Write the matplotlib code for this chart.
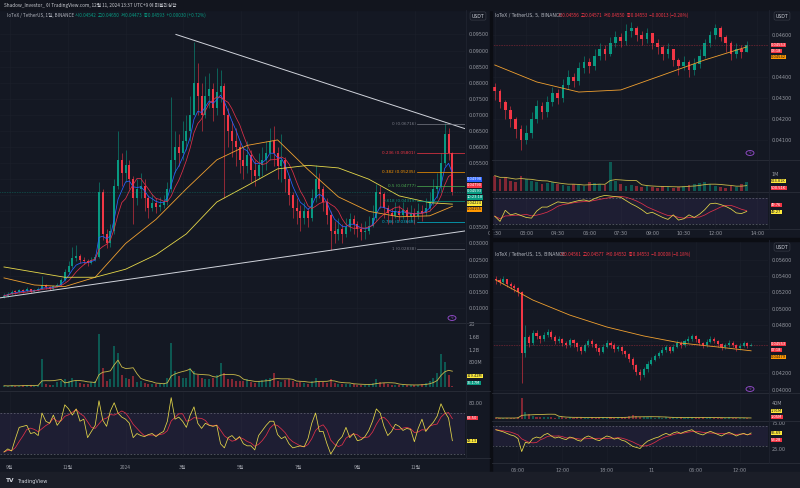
import numpy as np
import pandas as pd
import matplotlib
matplotlib.use('Agg')
import matplotlib.pyplot as plt
import matplotlib.dates as mdates
from matplotlib.patches import Rectangle, Circle

plt.rcParams['font.family'] = ['DejaVu Sans', 'Noto Sans CJK KR']
KR = ['Noto Sans CJK KR', 'DejaVu Sans']

# ---------------- DATA ----------------
# Left: IOTX/USDT daily (aggregated 4-day samples)
d_start = '2023-08-26'
close_d = [0.0138,0.0142,0.0150,0.0148,0.0155,0.0152,0.0158,0.0150,0.0155,0.0160,
           0.0172,0.0165,0.0160,0.0168,0.0172,0.0185,0.0210,0.0230,0.0255,0.0262,
           0.0250,0.0245,0.0240,0.0250,0.0258,0.0460,0.0330,0.0300,0.0340,0.0480,
           0.0560,0.0520,0.0545,0.0500,0.0440,0.0470,0.0480,0.0440,0.0410,0.0425,
           0.0415,0.0420,0.0430,0.0470,0.0560,0.0600,0.0580,0.0620,0.0650,0.0700,
           0.0800,0.0760,0.0700,0.0760,0.0780,0.0720,0.0770,0.0790,0.0700,0.0650,
           0.0620,0.0600,0.0560,0.0540,0.0575,0.0530,0.0510,0.0545,0.0560,0.0580,
           0.0620,0.0580,0.0540,0.0560,0.0500,0.0450,0.0410,0.0400,0.0380,0.0400,
           0.0380,0.0440,0.0500,0.0470,0.0430,0.0390,0.0340,0.0330,0.0345,0.0330,
           0.0350,0.0375,0.0360,0.0345,0.0335,0.0340,0.0355,0.0380,0.0460,0.0455,
           0.0410,0.0395,0.0385,0.0400,0.0390,0.0405,0.0385,0.0395,0.0385,0.0400,
           0.0395,0.0410,0.0430,0.0470,0.0480,0.0550,0.0640,0.0580,0.04593]
high_d = [0.0145,0.0150,0.0156,0.0155,0.0160,0.0158,0.0165,0.0160,0.0160,0.0166,
          0.0200,0.0175,0.0168,0.0172,0.0178,0.0192,0.0222,0.0245,0.0290,0.0295,
          0.0268,0.0258,0.0252,0.0258,0.0266,0.0490,0.0470,0.0345,0.0360,0.0500,
          0.0650,0.0580,0.0590,0.0560,0.0510,0.0500,0.0520,0.0500,0.0450,0.0455,
          0.0440,0.0445,0.0450,0.0490,0.0755,0.0650,0.0640,0.0680,0.0700,0.0760,
          0.0926,0.0860,0.0800,0.0820,0.0830,0.0800,0.0845,0.0840,0.0800,0.0720,
          0.0680,0.0660,0.0620,0.0600,0.0620,0.0590,0.0560,0.0580,0.0600,0.0620,
          0.0660,0.0665,0.0600,0.0640,0.0570,0.0510,0.0460,0.0440,0.0420,0.0430,
          0.0410,0.0470,0.0545,0.0520,0.0480,0.0440,0.0400,0.0370,0.0380,0.0360,
          0.0380,0.0395,0.0390,0.0370,0.0365,0.0370,0.0385,0.0420,0.0485,0.0480,
          0.0460,0.0420,0.0410,0.0430,0.0420,0.0430,0.0415,0.0420,0.0410,0.0425,
          0.0420,0.0440,0.0460,0.0500,0.0520,0.0580,0.0675,0.0660,0.0585]
low_d = [0.0130,0.0135,0.0140,0.0142,0.0145,0.0146,0.0150,0.0146,0.0148,0.0152,
         0.0158,0.0158,0.0155,0.0156,0.0164,0.0170,0.0182,0.0205,0.0225,0.0245,
         0.0240,0.0235,0.0230,0.0236,0.0245,0.0255,0.0310,0.0285,0.0290,0.0330,
         0.0470,0.0480,0.0490,0.0470,0.0360,0.0420,0.0440,0.0400,0.0380,0.0400,
         0.0395,0.0400,0.0410,0.0420,0.0460,0.0520,0.0540,0.0560,0.0590,0.0620,
         0.0700,0.0700,0.0650,0.0690,0.0720,0.0680,0.0700,0.0740,0.0440,0.0600,
         0.0570,0.0540,0.0520,0.0500,0.0520,0.0490,0.0480,0.0500,0.0510,0.0530,
         0.0560,0.0540,0.0500,0.0490,0.0460,0.0420,0.0380,0.0360,0.0340,0.0360,
         0.0350,0.0370,0.0430,0.0440,0.0400,0.0360,0.0280,0.0300,0.0310,0.0300,
         0.0320,0.0340,0.0330,0.0320,0.0310,0.0315,0.0330,0.0350,0.0370,0.0410,
         0.0380,0.0360,0.0360,0.0380,0.0370,0.0375,0.0365,0.0370,0.0360,0.0375,
         0.0370,0.0385,0.0400,0.0420,0.0440,0.0460,0.0540,0.0560,0.0450]
vol_d = [40,30,50,40,40,60,70,50,40,60,
         900,90,60,70,150,180,250,200,300,180,
         120,100,90,150,200,1700,600,200,250,1300,
         1100,400,300,250,350,150,200,120,100,90,
         90,100,120,300,1400,500,350,300,300,600,
         500,400,300,250,250,300,400,770,450,250,
         250,200,180,180,250,150,120,200,220,250,
         300,450,200,150,220,250,200,120,150,120,
         110,200,300,200,150,130,250,130,100,100,
         90,110,90,80,60,70,90,120,250,150,
         120,90,80,70,60,70,60,70,60,80,
         90,120,200,300,450,1050,800,400,36]  # millions
rsi_d = [32,35,33,45,56,57,58,50,51,48,70,62,60,68,58,63,78,74,68,74,
         62,64,46,52,58,82,63,57,72,80,70,66,64,60,46,50,48,47,49,50,
         47,50,52,62,85,64,66,62,56,68,76,60,55,60,58,57,58,40,36,46,
         48,44,47,40,38,38,34,48,53,58,62,62,49,45,47,40,36,37,38,37,
         45,60,70,52,52,40,30,36,43,47,56,46,50,43,44,47,53,62,74,70,
         57,48,52,59,57,53,55,54,42,55,64,52,57,61,67,79,71,65,43]
# slow moving averages (sampled every 8 candles + last)
ma_slow_idx = [0, 8, 16, 24, 32, 40, 48, 56, 64, 72, 80, 88, 96, 104, 112, 118]
ma_orange_d = [0.0193,0.0171,0.0166,0.0195,0.0300,0.0375,0.0470,0.0560,0.0605,0.0622,
               0.0530,0.0445,0.0400,0.0383,0.0386,0.04155]
ma_yellow_d = [0.0227,0.0211,0.0195,0.0195,0.0220,0.0265,0.0330,0.0429,0.0480,0.0532,
               0.0543,0.0535,0.0500,0.0448,0.0427,0.04224]
fib_levels = [0, 0.236, 0.382, 0.5, 0.618, 0.786, 1]
fib_top, fib_bottom = 0.06716, 0.02838
trend_upper = [(181.0, 0.0950), (485.3, 0.0657)]   # (days from start, price)
trend_lower = [(-4.2, 0.0131), (485.3, 0.0339)]

# Top right: 5m chart (15-min samples)
tr_start = '2024-12-11 01:30'
close_tr = [0.0433,0.0428,0.0424,0.0420,0.0415,0.0410,0.0413,0.0420,0.0426,0.0423,
            0.0428,0.0432,0.0430,0.0436,0.0440,0.0438,0.0444,0.0447,0.0445,0.0450,
            0.0453,0.0451,0.0456,0.0459,0.0457,0.0462,0.0463,0.0460,0.0458,0.0461,
            0.0456,0.0454,0.0451,0.0453,0.0448,0.0445,0.0447,0.0443,0.0446,0.0450,
            0.0456,0.0460,0.0463,0.0459,0.0456,0.0451,0.0453,0.0452,0.04553]
high_tr = [0.0437,0.0434,0.0429,0.0426,0.0421,0.0417,0.0417,0.0423,0.0429,0.0428,
           0.0431,0.0435,0.0434,0.0439,0.0443,0.0442,0.0447,0.0450,0.0449,0.0453,
           0.0456,0.0455,0.0459,0.0462,0.0461,0.0465,0.0466,0.0464,0.0462,0.0463,
           0.0461,0.0458,0.0455,0.0456,0.0453,0.0449,0.0450,0.0448,0.0449,0.0453,
           0.0458,0.0462,0.0465,0.0464,0.0460,0.0457,0.0456,0.0455,0.04571]
low_tr = [0.0429,0.0425,0.0420,0.0416,0.0411,0.0405,0.0408,0.0411,0.0418,0.0420,
          0.0421,0.0426,0.0427,0.0428,0.0434,0.0435,0.0436,0.0442,0.0442,0.0443,
          0.0448,0.0448,0.0450,0.0454,0.0454,0.0455,0.0459,0.0457,0.0455,0.0456,
          0.0453,0.0451,0.0448,0.0449,0.0445,0.0441,0.0443,0.0440,0.0441,0.0444,
          0.0449,0.0454,0.0458,0.0457,0.0452,0.0448,0.0449,0.0449,0.04550]
vol_tr = [900,700,800,600,500,900,700,600,500,400,450,500,400,350,300,400,350,300,500,450,
          400,350,1700,600,400,300,350,300,250,300,250,200,300,250,200,250,300,350,400,450,
          500,400,300,250,200,300,250,400,500]  # thousands
rsi_tr = [42,34,51,44,46,43,40,39,50,56,56,60,64,63,62,64,66,67,65,69,
          72,74,73,72,71,66,61,57,52,46,48,44,40,37,44,36,38,44,40,45,
          52,61,62,60,57,53,47,46,49.3]
ma_tr_idx = [0, 8, 16, 24, 32, 40, 48]
ma_orange_tr = [0.04456,0.04375,0.04327,0.04337,0.04408,0.04480,0.04542]

# Bottom right: 15m chart (30-min samples)
br_start = '2024-12-10 03:00'
close_br = [0.0535,0.0533,0.0536,0.0530,0.0528,0.0525,0.0520,0.0445,0.0465,0.0458,
            0.0470,0.0466,0.0462,0.0468,0.0471,0.0465,0.0460,0.0463,0.0458,0.0455,
            0.0461,0.0457,0.0452,0.0448,0.0455,0.0460,0.0456,0.0451,0.0447,0.0453,
            0.0458,0.0455,0.0450,0.0452,0.0448,0.0444,0.0438,0.0430,0.0422,0.0418,
            0.0425,0.0432,0.0437,0.0441,0.0445,0.0449,0.0452,0.0448,0.0453,0.0458,
            0.0455,0.0460,0.0463,0.0466,0.0462,0.0458,0.0455,0.0459,0.0463,0.0460,
            0.0456,0.0452,0.0455,0.0458,0.0455,0.0451,0.0454,0.0457,0.0454,0.04553]
high_br = [0.0540,0.0538,0.0540,0.0537,0.0533,0.0530,0.0527,0.0522,0.0480,0.0468,
           0.0474,0.0473,0.0468,0.0471,0.0475,0.0473,0.0467,0.0466,0.0464,0.0460,
           0.0464,0.0463,0.0459,0.0454,0.0458,0.0463,0.0462,0.0458,0.0453,0.0456,
           0.0461,0.0460,0.0457,0.0455,0.0454,0.0449,0.0445,0.0440,0.0432,0.0425,
           0.0428,0.0435,0.0440,0.0444,0.0448,0.0452,0.0455,0.0454,0.0456,0.0461,
           0.0460,0.0463,0.0466,0.0469,0.0467,0.0463,0.0459,0.0462,0.0466,0.0465,
           0.0461,0.0457,0.0458,0.0461,0.0460,0.0456,0.0457,0.0460,0.0459,0.04577]
low_br = [0.0530,0.0529,0.0530,0.0527,0.0524,0.0521,0.0515,0.0408,0.0440,0.0452,
          0.0455,0.0462,0.0457,0.0460,0.0465,0.0462,0.0456,0.0457,0.0454,0.0451,
          0.0453,0.0453,0.0448,0.0444,0.0446,0.0453,0.0453,0.0448,0.0443,0.0445,
          0.0451,0.0451,0.0447,0.0448,0.0444,0.0440,0.0434,0.0426,0.0418,0.0412,
          0.0416,0.0422,0.0430,0.0435,0.0439,0.0443,0.0447,0.0445,0.0446,0.0451,
          0.0451,0.0453,0.0457,0.0460,0.0459,0.0455,0.0451,0.0453,0.0457,0.0457,
          0.0453,0.0449,0.0450,0.0453,0.0452,0.0448,0.0449,0.0452,0.0451,0.04552]
vol_br = [3,2,2,3,2,3,5,52,18,12,8,6,5,4,6,4,3,5,4,3,4,3,5,4,3,3,4,3,5,4,
          3,4,3,4,5,6,8,10,7,5,4,5,4,3,4,3,5,3,4,3,4,3,5,4,3,3,4,3,4,3,
          3,2,3,4,3,3,2,3,2,1.05]  # millions
rsi_br = [62,60,58,55,52,50,45,20,38,36,45,48,46,52,55,50,46,48,45,43,
          48,46,42,40,47,50,47,43,41,46,50,48,44,46,42,40,35,30,28,26,
          34,40,43,46,48,52,55,52,56,58,55,58,60,62,57,54,52,56,59,56,
          53,50,54,57,54,50,53,55,52,55.7]
ma_br_idx = [0, 10, 20, 30, 40, 50, 60, 69]
ma_orange_br = [0.05353,0.05106,0.04920,0.04773,0.04662,0.04575,0.04526,0.04479]

# ---------------- STYLE ----------------
W, H = 800, 488
BG = '#141823'
GRID = '#1c202b'
TXT = '#9598a1'
UP = '#089981'
DN = '#f23645'
SEP = '#2a2e39'
ORANGE = '#f0a030'
YELLOW = '#e6d84a'
BLUE = '#2962ff'
MARED = '#e0304a'
FS = 3.5

fig = plt.figure(figsize=(W/100, H/100), dpi=100, facecolor=BG)

def add_ax(x0, y0, x1, y1):
    ax = fig.add_axes([x0/W, 1-y1/H, (x1-x0)/W, (y1-y0)/H])
    ax.set_facecolor(BG)
    for s in ax.spines.values():
        s.set_visible(False)
    ax.yaxis.tick_right()
    ax.tick_params(axis='both', length=0, labelsize=FS, labelcolor=TXT, pad=2.5)
    ax.tick_params(axis='x', labelbottom=False)
    return ax

def candles(ax, t, o, h, l, c, w):
    o, h, l, c = map(np.asarray, (o, h, l, c))
    h = np.maximum(h, np.maximum(o, c)); l = np.minimum(l, np.minimum(o, c))
    col = np.where(c >= o, UP, DN)
    ax.vlines(t, l, h, colors=col, lw=0.4)
    body = np.maximum(np.abs(c-o), (ax.get_ylim()[1]-ax.get_ylim()[0])*0.003)
    ax.bar(t, body, bottom=np.minimum(o, c), width=w, color=col, lw=0)
    return col

def tag(xp, yp, text, fc, tc='white'):
    fig.text(xp/W, 1-yp/H, text, fontsize=2.6, color=tc, ha='left', va='center',
             bbox=dict(boxstyle='square,pad=0.1', fc=fc, ec='none'))

def ftext(xp, yp, s, color=TXT, size=FS, **kw):
    return fig.text(xp/W, 1-yp/H, s, fontsize=size, color=color, va='center', **kw)

def usdt(xp, yp):
    fig.text(xp/W, 1-yp/H, 'USDT', fontsize=3.3, color='#d1d4dc', va='center', ha='center',
             bbox=dict(boxstyle='round,pad=0.35', fc=BG, ec='#363a45', lw=0.5))

def idea_icon(xp, yp):
    fig.patches.append(Circle((xp/W, 1-yp/H), 4/W, transform=fig.transFigure,
                              fc='none', ec='#9c4fd6', lw=0.6))
    ftext(xp, yp, 'ϟ', color='#9c4fd6', size=3, ha='center')

def rsi_pane(ax, t, rsi, win, lo, hi):
    r = pd.Series(rsi)
    ax.axhspan(lo, hi, color='#7e57c2', alpha=0.10, lw=0)
    ax.axhline(hi, color='#787b86', lw=0.4, ls=(0, (3, 3)))
    ax.axhline(lo, color='#787b86', lw=0.4, ls=(0, (3, 3)))
    ax.plot(t, r.rolling(win, min_periods=1).mean(), color=MARED, lw=0.55)
    ax.plot(t, r, color=YELLOW, lw=0.55)

fmt5 = matplotlib.ticker.FuncFormatter(lambda v, p: f'{v:.5f}')

# ---------------- LEFT CHART ----------------
t_d = mdates.date2num(pd.date_range(d_start, periods=len(close_d), freq='4D').to_pydatetime())
t0 = t_d[0]
xlim_d = (t0-4.2, t0+485.3)
cd = np.array(close_d)
open_d = np.r_[cd[0]*0.97, cd[:-1]]

axp = add_ax(0, 10, 465, 323)
axp.set_xlim(xlim_d); axp.set_ylim(0.00528, 0.1026)
# labels under the price tags (0.040-0.050) are hidden, as on the reference
price_ticks_d = [0.010, 0.015, 0.020, 0.025, 0.030, 0.035, 0.055, 0.060, 0.065,
                 0.070, 0.075, 0.080, 0.085, 0.090, 0.095]
axp.set_yticks(price_ticks_d)
axp.yaxis.set_major_formatter(fmt5)
month_ticks = pd.to_datetime(['2023-09-01','2023-11-01','2024-01-01','2024-03-01',
                              '2024-05-01','2024-07-01','2024-09-01','2024-11-01'])
month_labels = ['9월', '11월', '2024', '3월', '5월', '7월', '9월', '11월']
mt = mdates.date2num(month_ticks.to_pydatetime())
axp.set_xticks(mt)
axp.grid(color=GRID, lw=0.4)
for gv in (0.040, 0.045, 0.050):
    axp.axhline(gv, color=GRID, lw=0.4, zorder=0)
axp.set_axisbelow(True)
cols_d = candles(axp, t_d, open_d, high_d, low_d, close_d, 2.0)
s = pd.Series(close_d)
axp.plot(t_d, s.ewm(span=5).mean(), color=BLUE, lw=0.55)
axp.plot(t_d, s.rolling(7, min_periods=1).mean(), color=MARED, lw=0.55)
axp.plot(t_d[ma_slow_idx], ma_orange_d, color=ORANGE, lw=0.6)
axp.plot(t_d[ma_slow_idx], ma_yellow_d, color=YELLOW, lw=0.6)
for tl in (trend_upper, trend_lower):
    axp.plot([t0+tl[0][0], t0+tl[1][0]], [tl[0][1], tl[1][1]], color='#d1d4dc', lw=0.7)
fib_cols = ['#787b86', '#f23645', '#ff9800', '#4caf50', '#089981', '#00bcd4', '#787b86']
fib_x0 = t0 + 434.7
for lv, fc in zip(fib_levels, fib_cols):
    pv = fib_top - lv*(fib_top - fib_bottom)
    axp.plot([fib_x0, xlim_d[1]], [pv, pv], color=fc, lw=0.5)
    axp.text(fib_x0-1.5, pv, f'{lv:g} ({pv:.5f})', color=fc, fontsize=3.0, ha='right', va='center')
axp.axhline(close_d[-1], color=UP, lw=0.4, ls=(0, (1, 2)))

axv = add_ax(0, 323, 465, 390)
axv.set_xlim(xlim_d); axv.set_ylim(-96, 2048)
axv.set_yticks([800, 1200, 1600, 2000]); axv.set_yticklabels(['800M', '1.2B', '1.6B', '2B'])
axv.set_xticks(mt); axv.grid(axis='x', color=GRID, lw=0.4); axv.set_axisbelow(True)
axv.bar(t_d, vol_d, width=2.0, color=cols_d, alpha=0.5, lw=0)
axv.plot(t_d, pd.Series(vol_d).rolling(6, min_periods=1).mean(), color='#c9b94a', lw=0.6)

axr = add_ax(0, 392, 465, 457)
axr.set_xlim(xlim_d); axr.set_ylim(27.1, 90.5)
axr.set_yticks([80]); axr.set_yticklabels(['80.00'])
axr.set_xticks(mt); axr.set_xticklabels(month_labels, family=KR)
axr.tick_params(axis='x', labelbottom=True, pad=6.0)
axr.grid(axis='x', color=GRID, lw=0.4); axr.set_axisbelow(True)
rsi_pane(axr, t_d, rsi_d, 4, 30, 70)

# ---------------- TOP RIGHT ----------------
t_tr = mdates.date2num(pd.date_range(tr_start, periods=len(close_tr), freq='15min').to_pydatetime())
hr = 1/24
xlim_tr = (t_tr[0]-2.75/21*hr, t_tr[0]+273.25/21*hr)
ctr = np.array(close_tr); open_tr = np.r_[ctr[0]+0.0002, ctr[:-1]]
ax2 = add_ax(492, 10, 768, 160)
ax2.set_xlim(xlim_tr); ax2.set_ylim(0.04003, 0.04718)
ax2.set_yticks([0.041, 0.042, 0.043, 0.044, 0.046])
ax2.yaxis.set_major_formatter(fmt5)
tr_ticks = pd.to_datetime(['2024-12-11 01:30','2024-12-11 03:00','2024-12-11 04:30','2024-12-11 06:00',
                           '2024-12-11 07:30','2024-12-11 09:00','2024-12-11 10:30','2024-12-11 12:00',
                           '2024-12-11 14:00'])
tr_labels = ['01:30','03:00','04:30','06:00','07:30','09:00','10:30','12:00','14:00']
trt = mdates.date2num(tr_ticks.to_pydatetime())
ax2.set_xticks(trt); ax2.grid(color=GRID, lw=0.4); ax2.set_axisbelow(True)
cols_tr = candles(ax2, t_tr, open_tr, high_tr, low_tr, close_tr, 0.55*15/1440)
ax2.plot(t_tr[ma_tr_idx], ma_orange_tr, color=ORANGE, lw=0.6)
ax2.axhline(close_tr[-1], color=DN, lw=0.4, ls=(0, (1, 2)))

ax2v = add_ax(492, 160, 768, 192)
ax2v.set_xlim(xlim_tr); ax2v.set_ylim(-60, 1820)
ax2v.set_yticks([1000]); ax2v.set_yticklabels(['1M'])
ax2v.set_xticks(trt); ax2v.grid(axis='x', color=GRID, lw=0.4); ax2v.set_axisbelow(True)
ax2v.bar(t_tr, vol_tr, width=0.55*15/1440, color=cols_tr, alpha=0.5, lw=0)
ax2v.plot(t_tr, pd.Series(vol_tr).rolling(6, min_periods=1).mean(), color='#c9b94a', lw=0.6)

ax2r = add_ax(492, 192, 768, 228)
ax2r.set_xlim(xlim_tr); ax2r.set_ylim(23.8, 79.2)
ax2r.set_yticks([])
ax2r.set_xticks(trt); ax2r.set_xticklabels(tr_labels)
ax2r.tick_params(axis='x', labelbottom=True, pad=2.0)
ax2r.grid(axis='x', color=GRID, lw=0.4); ax2r.set_axisbelow(True)
rsi_pane(ax2r, t_tr, rsi_tr, 5, 30, 70)

# ---------------- BOTTOM RIGHT ----------------
t_br = mdates.date2num(pd.date_range(br_start, periods=len(close_br), freq='30min').to_pydatetime())
xlim_br = (t_br[0]-3.8/7.4*hr, t_br[0]+272.2/7.4*hr)
cbr = np.array(close_br); open_br = np.r_[cbr[0]+0.0002, cbr[:-1]]
ax3 = add_ax(492, 240, 768, 393)
ax3.set_xlim(xlim_br); ax3.set_ylim(0.03958, 0.05847)
ax3.set_yticks([0.040, 0.042, 0.048, 0.050, 0.052, 0.054, 0.056])
ax3.yaxis.set_major_formatter(fmt5)
br_ticks = pd.to_datetime(['2024-12-10 06:00','2024-12-10 12:00','2024-12-10 18:00','2024-12-11 00:00',
                           '2024-12-11 06:00','2024-12-11 12:00'])
br_labels = ['06:00', '12:00', '18:00', '11', '06:00', '12:00']
brt = mdates.date2num(br_ticks.to_pydatetime())
ax3.set_xticks(brt); ax3.grid(color=GRID, lw=0.4); ax3.set_axisbelow(True)
for gv in (0.044, 0.046):
    ax3.axhline(gv, color=GRID, lw=0.4, zorder=0)
cols_br = candles(ax3, t_br, open_br, high_br, low_br, close_br, 0.55*30/1440)
ax3.plot(t_br[ma_br_idx], ma_orange_br, color=ORANGE, lw=0.6)
ax3.axhline(close_br[-1], color=DN, lw=0.4, ls=(0, (1, 2)))

ax3v = add_ax(492, 393, 768, 421)
ax3v.set_xlim(xlim_br); ax3v.set_ylim(-5, 65)
ax3v.set_yticks([40]); ax3v.set_yticklabels(['40M'])
ax3v.set_xticks(brt); ax3v.grid(axis='x', color=GRID, lw=0.4); ax3v.set_axisbelow(True)
ax3v.bar(t_br, vol_br, width=0.55*30/1440, color=cols_br, alpha=0.5, lw=0)
ax3v.plot(t_br, pd.Series(vol_br).rolling(10, min_periods=1).mean(), color='#c9b94a', lw=0.6)

ax3r = add_ax(492, 421, 768, 462)
ax3r.set_xlim(xlim_br); ax3r.set_ylim(0, 78.8)
ax3r.set_yticks([25, 75]); ax3r.set_yticklabels(['25.00', '75.00'])
ax3r.set_xticks(brt); ax3r.set_xticklabels(br_labels)
ax3r.tick_params(axis='x', labelbottom=True, pad=4.0)
ax3r.grid(axis='x', color=GRID, lw=0.4); ax3r.set_axisbelow(True)
rsi_pane(ax3r, t_br, rsi_br, 5, 30, 70)

# ---------------- FRAME, SEPARATORS, TEXT ----------------
def hline(x0, x1, y, c=SEP, lw=0.6):
    fig.add_artist(plt.Line2D([x0/W, x1/W], [1-y/H, 1-y/H], color=c, lw=lw))
def vline(x, y0, y1, c=SEP, lw=0.6):
    fig.add_artist(plt.Line2D([x/W, x/W], [1-y0/H, 1-y1/H], color=c, lw=lw))

for y in (323, 391):
    hline(0, 490, y)
hline(492, 800, 160); hline(492, 800, 192)
hline(492, 800, 393); hline(492, 800, 421)
hline(0, 490, 458); hline(492, 800, 229); hline(492, 800, 463)
vline(466, 10, 458, c='#1f2330'); vline(769, 10, 229, c='#1f2330'); vline(769, 240, 463, c='#1f2330')
fig.patches.append(Rectangle((490/W, 0), 2/W, 1-10/H, transform=fig.transFigure, color='#0b0d13'))
fig.patches.append(Rectangle((492/W, 1-241/H), 308/W, 3/H, transform=fig.transFigure, color='#0b0d13'))
fig.patches.append(Rectangle((0, 0), 1, 16/H, transform=fig.transFigure, color='#1b1e28'))
fig.patches.append(Rectangle((0, 1-10/H), 1, 10/H, transform=fig.transFigure, color='#12151e'))

ftext(4, 5, 'Shadow_Investor_ 이 TradingView.com, 12월 11, 2024 13:37 UTC+9 에 퍼블리싱함',
      color='#c8cad0', size=3.4, family=KR)
ftext(7, 15, 'IoTeX / TetherUS, 1일, BINANCE', color='#b2b5be', size=3.3, family=KR)
ftext(75, 15, '시0.04542  고0.04650  저0.04473  종0.04593  +0.00030 (+0.72%)', color=UP, size=3.3, family=KR)
ftext(495, 15, 'IoTeX / TetherUS, 5, BINANCE', color='#b2b5be', size=3.3)
ftext(558, 15, '시0.04556  고0.04571  저0.04550  종0.04553  −0.00013 (−0.28%)', color=DN, size=3.3, family=KR)
ftext(495, 254, 'IoTeX / TetherUS, 15, BINANCE', color='#b2b5be', size=3.3)
ftext(560, 254, '시0.04561  고0.04577  저0.04552  종0.04553  −0.00008 (−0.18%)', color=DN, size=3.3, family=KR)
usdt(478, 16); usdt(782, 16); usdt(782, 247)
ftext(6, 481, 'TV', color='#d1d4dc', size=4.2, weight='bold')
ftext(17, 481, 'TradingView', color='#d1d4dc', size=3.6)

# price-scale tags
tag(467, 179.5, '0.04998', BLUE)
tag(467, 185.5, '0.04790', DN)
tag(467, 191.5, '0.04593', UP)
tag(467, 197.5, '10:23:18', UP)
tag(467, 203.5, '0.04224', '#ffeb3b', '#131722')
tag(467, 209.5, '0.04155', '#ff9800', '#131722')
tag(467, 376, '319.42M', '#ffeb3b', '#131722')
tag(467, 383, '36.17M', UP)
tag(467, 418, '63.50', DN)
tag(467, 441, '43.13', '#ffeb3b', '#131722')
tag(771, 45, '0.04553', DN)
tag(771, 51, '03:18', DN)
tag(771, 57, '0.04542', '#ff9800', '#131722')
tag(771, 181, '624.81K', '#ffeb3b', '#131722')
tag(771, 188, '500.51K', DN)
tag(771, 205, '49.76', DN)
tag(771, 212, '49.27', '#ffeb3b', '#131722')
tag(771, 344, '0.04553', DN)
tag(771, 350, '07:18', DN)
tag(771, 357, '0.04479', '#ff9800', '#131722')
tag(771, 411, '1.91M', '#ffeb3b', '#131722')
tag(771, 417, '1.05M', DN)
tag(771, 433, '55.69', '#ffeb3b', '#131722')
tag(771, 440, '53.28', DN)
idea_icon(452, 318); idea_icon(750, 153); idea_icon(750, 389)

fig.savefig('out.png', dpi=100, facecolor=BG)
